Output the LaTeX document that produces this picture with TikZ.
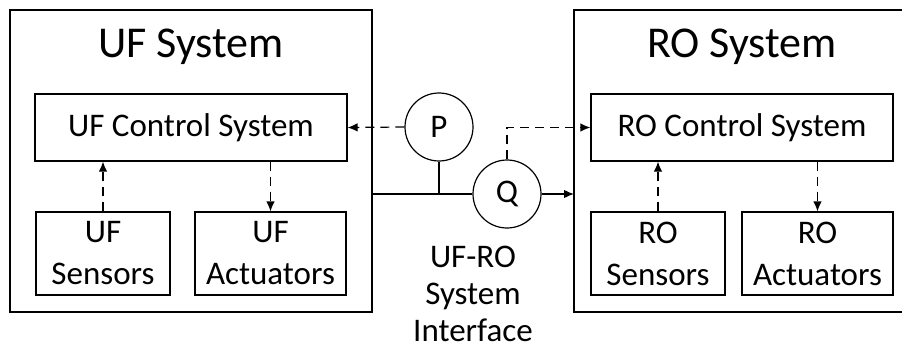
\documentclass[tikz,border=0pt]{standalone}
\usepackage{fontspec}
\setmainfont{Carlito}
\usetikzlibrary{arrows.meta}
\begin{document}
\begin{tikzpicture}[x=1pt,y=-1pt,
  line width=1.2pt,
  every node/.style={font=\fontsize{33}{42}\selectfont},
  box/.style={draw,rectangle,inner sep=0pt,align=center},
  gauge/.style={draw,circle,inner sep=0pt,minimum size=68pt},
  signal/.style={dash pattern=on 9pt off 6pt,-{Latex[length=10pt,width=8.5pt]}},
  flow/.style={-{Latex[length=10pt,width=8.5pt]}},
  title/.style={font=\fontsize{44}{50}\selectfont}
]
\useasboundingbox (0,0) rectangle (902,350);

% UF subsystem
\draw (10,10) rectangle (372,312);
\node[title] (uftitle) at (191,47) {UF System};
\node[box,minimum width=312pt,minimum height=67pt] (uctl) at (191,127.5) {UF Control System};
\node[box,minimum width=134pt,minimum height=83pt] (usens) at (103,253.5) {UF\\Sensors};
\node[box,minimum width=151pt,minimum height=83pt] (uact) at (270.5,253.5) {UF\\Actuators};

% RO subsystem (box runs past the right edge)
\draw (910,10) -- (574,10) -- (574,312) -- (910,312);
\node[title] (rotitle) at (742,47) {RO System};
\node[box,minimum width=302pt,minimum height=67pt] (rctl) at (742,127.5) {RO Control System};
\node[box,minimum width=134pt,minimum height=83pt] (rsens) at (658,253.5) {RO\\Sensors};
\node[box,minimum width=151pt,minimum height=83pt] (ract) at (817.5,253.5) {RO\\Actuators};

% interface instruments
\node[gauge] (P) at (439,127) {P};
\node[gauge] (Q) at (507,194) {Q};
\coordinate (ufout) at (372,194);
\coordinate (roin) at (574,194);
\node[align=center,font=\fontsize{33}{37}\selectfont,inner sep=0pt] (iface) at (473,294) {UF-RO\\System\\Interface};

% process line
\draw (ufout) -- (Q.west);
\draw (P.south) -- (P.south |- Q.west);
\draw[flow] (Q.east) -- (roin);

% signal lines
\draw[signal] (P.west) -- (uctl.east);
\draw[signal] (Q.north) |- (rctl.west);
\draw[signal] (usens.north) -- (usens.north |- uctl.south);
\draw[signal] (uact.north |- uctl.south) -- (uact.north);
\draw[signal] (rsens.north) -- (rsens.north |- rctl.south);
\draw[signal] (ract.north |- rctl.south) -- (ract.north);
\end{tikzpicture}
\end{document}
